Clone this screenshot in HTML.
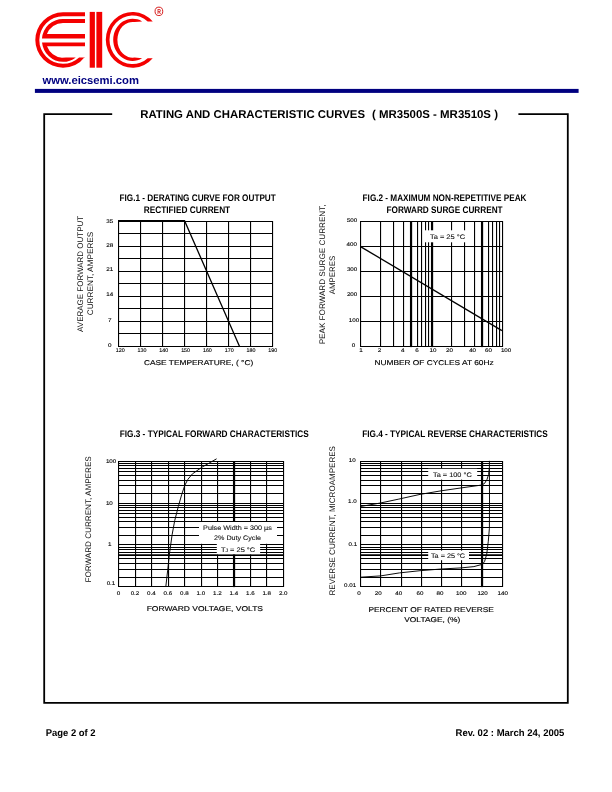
<!DOCTYPE html>
<html lang="en">
<head>
<meta charset="utf-8">
<title>EIC MR3500S - MR3510S Rating and Characteristic Curves</title>
<style>
html,body{margin:0;padding:0;background:#fff;}
body{width:612px;height:792px;overflow:hidden;}
svg{display:block;}
text{font-family:"Liberation Sans",Arial,Helvetica,sans-serif;fill:#000;text-rendering:geometricPrecision;}
.b{font-weight:bold;}
.ft{font-weight:bold;font-size:9.5px;}
.ax{font-size:7px;fill:#000;stroke:#000;stroke-width:0.14px;}
.ay{font-size:8.1px;fill:#111;}
.tk{font-size:5.4px;fill:#000;stroke:#000;stroke-width:0.12px;}
.an{font-size:6.6px;fill:#111;stroke:#111;stroke-width:0.1px;}
.g line{stroke:#000;stroke-width:1.1;}
</style>
</head>
<body>
<svg width="612" height="792" viewBox="0 0 612 792">
<rect x="0" y="0" width="612" height="792" fill="#fff"/>

<g id="logo" fill="#f40000">
<path d="M85.0,12.3 H63.0 A27.7,27.7 0 0 0 63.0,67.7 A27.7,27.7 0 0 0 85.00,56.83 L85.0,57.4 L79.09,57.40 A23.7,23.7 0 0 1 63.0,63.7 A23.7,23.7 0 0 1 63.0,16.3 H85.0 Z"/>
<path d="M85.0,18.9 H63.0 A21.1,21.1 0 0 0 41.95,38.60 H85.0 V34.1 H46.95 A17.1,17.1 0 0 1 63.0,22.9 H85.0 Z"/>
<path d="M85.0,42.4 H42.03 A21.1,21.85 0 0 0 63.0,61.85 A21.1,21.85 0 0 0 75.76,57.40 L66.00,57.55 L62.0,57.70 A17.1,17.70 0 0 1 47.02,46.30 H85.0 Z"/>
<rect x="89.7" y="11.9" width="5.2" height="55.8"/>
<rect x="96.4" y="11.9" width="5.8" height="55.8"/>
<path d="M152.75,21.40 A26.8,27.9 0 1 0 152.75,58.20 L147.69,58.20 A23.1,24.3 0 1 1 147.69,21.40 Z"/>
<path d="M142.10,21.40 A19.4,21.1 0 1 0 142.10,58.20 L134.56,57.55 A15.2,17.9 0 1 1 134.56,22.05 Z"/>
</g>
<ellipse cx="158.9" cy="11.35" rx="3.85" ry="4.2" fill="none" stroke="#d81c1c" stroke-width="1"/>
<text x="159.1" y="14.3" text-anchor="middle" style="font-size:7.2px;fill:#d01818;font-weight:bold" textLength="3.7" lengthAdjust="spacingAndGlyphs">R</text>
<text x="42.4" y="83.7" class="b" style="font-size:11.2px;fill:#000080" textLength="96.6" lengthAdjust="spacingAndGlyphs">www.eicsemi.com</text>
<rect x="34.9" y="88.9" width="543.7" height="4.0" fill="#000080"/>
<path d="M112.2,114.2 H44.2 V702.8 H567.8 V114.2 H518.4" fill="none" stroke="#000" stroke-width="1.8"/>
<text x="140.2" y="118.0" class="b" textLength="224.8" lengthAdjust="spacingAndGlyphs" style="font-size:11.3px">RATING AND CHARACTERISTIC CURVES</text>
<text x="372.0" y="118.0" class="b" textLength="126.0" lengthAdjust="spacingAndGlyphs" style="font-size:11.3px">( MR3500S - MR3510S )</text>
<text x="45.7" y="735.7" class="b" textLength="49.9" lengthAdjust="spacingAndGlyphs" style="font-size:9.8px">Page 2 of 2</text>
<text x="455.6" y="735.7" class="b" textLength="108.7" lengthAdjust="spacingAndGlyphs" style="font-size:9.7px">Rev. 02 : March 24, 2005</text>
<text x="119.5" y="200.9" class="ft" textLength="156.3" lengthAdjust="spacingAndGlyphs">FIG.1 - DERATING CURVE FOR OUTPUT</text>
<text x="143.7" y="212.7" class="ft" textLength="86.5" lengthAdjust="spacingAndGlyphs">RECTIFIED CURRENT</text>
<g class="g">
<line x1="118.55" y1="221.00" x2="118.55" y2="347.10"/>
<line x1="140.55" y1="221.00" x2="140.55" y2="347.10"/>
<line x1="162.55" y1="221.00" x2="162.55" y2="347.10"/>
<line x1="184.55" y1="221.00" x2="184.55" y2="347.10"/>
<line x1="206.55" y1="221.00" x2="206.55" y2="347.10"/>
<line x1="228.55" y1="221.00" x2="228.55" y2="347.10"/>
<line x1="250.55" y1="221.00" x2="250.55" y2="347.10"/>
<line x1="272.55" y1="221.00" x2="272.55" y2="347.10"/>
<line x1="118.55" y1="221.55" x2="272.55" y2="221.55"/>
<line x1="118.55" y1="233.55" x2="272.55" y2="233.55"/>
<line x1="118.55" y1="246.55" x2="272.55" y2="246.55"/>
<line x1="118.55" y1="258.55" x2="272.55" y2="258.55"/>
<line x1="118.55" y1="271.55" x2="272.55" y2="271.55"/>
<line x1="118.55" y1="283.55" x2="272.55" y2="283.55"/>
<line x1="118.55" y1="296.55" x2="272.55" y2="296.55"/>
<line x1="118.55" y1="308.55" x2="272.55" y2="308.55"/>
<line x1="118.55" y1="321.55" x2="272.55" y2="321.55"/>
<line x1="118.55" y1="333.55" x2="272.55" y2="333.55"/>
<line x1="118.55" y1="346.55" x2="272.55" y2="346.55"/>
</g>
<path d="M118.00,220.65 H184.55 L239.55,346.55" fill="none" stroke="#000" stroke-width="1.3"/>
<text x="109.7" y="222.7" class="tk" textLength="6.9" lengthAdjust="spacingAndGlyphs" text-anchor="middle">35</text>
<text x="109.7" y="247.1" class="tk" textLength="6.9" lengthAdjust="spacingAndGlyphs" text-anchor="middle">28</text>
<text x="109.7" y="270.8" class="tk" textLength="6.9" lengthAdjust="spacingAndGlyphs" text-anchor="middle">21</text>
<text x="109.7" y="296.0" class="tk" textLength="6.9" lengthAdjust="spacingAndGlyphs" text-anchor="middle">14</text>
<text x="109.7" y="322.0" class="tk" textLength="3.5" lengthAdjust="spacingAndGlyphs" text-anchor="middle">7</text>
<text x="109.7" y="347.2" class="tk" textLength="3.5" lengthAdjust="spacingAndGlyphs" text-anchor="middle">0</text>
<text x="120.2" y="351.9" class="tk" textLength="8.9" lengthAdjust="spacingAndGlyphs" text-anchor="middle">120</text>
<text x="142.0" y="351.9" class="tk" textLength="8.9" lengthAdjust="spacingAndGlyphs" text-anchor="middle">130</text>
<text x="163.8" y="351.9" class="tk" textLength="8.9" lengthAdjust="spacingAndGlyphs" text-anchor="middle">140</text>
<text x="185.6" y="351.9" class="tk" textLength="8.9" lengthAdjust="spacingAndGlyphs" text-anchor="middle">150</text>
<text x="207.4" y="351.9" class="tk" textLength="8.9" lengthAdjust="spacingAndGlyphs" text-anchor="middle">160</text>
<text x="229.2" y="351.9" class="tk" textLength="8.9" lengthAdjust="spacingAndGlyphs" text-anchor="middle">170</text>
<text x="251.0" y="351.9" class="tk" textLength="8.9" lengthAdjust="spacingAndGlyphs" text-anchor="middle">180</text>
<text x="272.8" y="351.9" class="tk" textLength="8.9" lengthAdjust="spacingAndGlyphs" text-anchor="middle">190</text>
<text x="143.9" y="365.2" class="ax" textLength="109.4" lengthAdjust="spacingAndGlyphs">CASE TEMPERATURE, ( °C)</text>
<text transform="translate(83.2 273.9) rotate(-90)" text-anchor="middle" class="ay" textLength="116.0" lengthAdjust="spacingAndGlyphs">AVERAGE FORWARD OUTPUT</text>
<text transform="translate(93.2 273.5) rotate(-90)" text-anchor="middle" class="ay" textLength="83.6" lengthAdjust="spacingAndGlyphs">CURRENT, AMPERES</text>
<text x="362.6" y="200.9" class="ft" textLength="163.9" lengthAdjust="spacingAndGlyphs">FIG.2 - MAXIMUM NON-REPETITIVE PEAK</text>
<text x="386.5" y="212.7" class="ft" textLength="116.1" lengthAdjust="spacingAndGlyphs">FORWARD SURGE CURRENT</text>
<g class="g">
<line x1="360.55" y1="221.00" x2="360.55" y2="347.10"/>
<line x1="380.55" y1="221.00" x2="380.55" y2="347.10"/>
<line x1="393.55" y1="221.00" x2="393.55" y2="347.10"/>
<line x1="403.55" y1="221.00" x2="403.55" y2="347.10"/>
<line x1="411.05" y1="221.00" x2="411.05" y2="347.10" style="stroke-width:2.2"/>
<line x1="417.55" y1="221.00" x2="417.55" y2="347.10"/>
<line x1="421.55" y1="221.00" x2="421.55" y2="347.10"/>
<line x1="425.55" y1="221.00" x2="425.55" y2="347.10"/>
<line x1="428.55" y1="221.00" x2="428.55" y2="347.10"/>
<line x1="432.05" y1="221.00" x2="432.05" y2="347.10" style="stroke-width:2.2"/>
<line x1="451.55" y1="221.00" x2="451.55" y2="347.10"/>
<line x1="464.55" y1="221.00" x2="464.55" y2="347.10"/>
<line x1="474.55" y1="221.00" x2="474.55" y2="347.10"/>
<line x1="482.05" y1="221.00" x2="482.05" y2="347.10" style="stroke-width:2.2"/>
<line x1="488.55" y1="221.00" x2="488.55" y2="347.10"/>
<line x1="492.55" y1="221.00" x2="492.55" y2="347.10"/>
<line x1="496.55" y1="221.00" x2="496.55" y2="347.10"/>
<line x1="499.55" y1="221.00" x2="499.55" y2="347.10"/>
<line x1="502.55" y1="221.00" x2="502.55" y2="347.10"/>
<line x1="360.55" y1="221.55" x2="502.55" y2="221.55"/>
<line x1="360.55" y1="246.55" x2="502.55" y2="246.55"/>
<line x1="360.55" y1="271.55" x2="502.55" y2="271.55"/>
<line x1="360.55" y1="296.55" x2="502.55" y2="296.55"/>
<line x1="360.55" y1="321.55" x2="502.55" y2="321.55"/>
<line x1="360.55" y1="346.55" x2="502.55" y2="346.55"/>
</g>
<rect x="424.2" y="230.3" width="42.4" height="12.0" fill="#fff"/>
<text x="430.0" y="238.5" class="an" textLength="35.1" lengthAdjust="spacingAndGlyphs">Ta = 25 °C</text>
<path d="M360.5,246.6 L501.9,330.6" fill="none" stroke="#000" stroke-width="1.3"/>
<text x="346.9" y="221.8" class="tk" textLength="10.4" lengthAdjust="spacingAndGlyphs">500</text>
<text x="346.6" y="246.0" class="tk" textLength="10.4" lengthAdjust="spacingAndGlyphs">400</text>
<text x="346.9" y="271.0" class="tk" textLength="10.4" lengthAdjust="spacingAndGlyphs">300</text>
<text x="346.9" y="296.0" class="tk" textLength="10.4" lengthAdjust="spacingAndGlyphs">200</text>
<text x="348.8" y="322.2" class="tk" textLength="10.4" lengthAdjust="spacingAndGlyphs">100</text>
<text x="351.7" y="346.8" class="tk" textLength="3.5" lengthAdjust="spacingAndGlyphs">0</text>
<text x="361.0" y="351.8" class="tk" textLength="3.5" lengthAdjust="spacingAndGlyphs" text-anchor="middle">1</text>
<text x="379.4" y="351.8" class="tk" textLength="3.5" lengthAdjust="spacingAndGlyphs" text-anchor="middle">2</text>
<text x="402.7" y="351.8" class="tk" textLength="3.5" lengthAdjust="spacingAndGlyphs" text-anchor="middle">4</text>
<text x="416.9" y="351.8" class="tk" textLength="3.5" lengthAdjust="spacingAndGlyphs" text-anchor="middle">6</text>
<text x="432.9" y="351.8" class="tk" textLength="6.9" lengthAdjust="spacingAndGlyphs" text-anchor="middle">10</text>
<text x="449.5" y="351.8" class="tk" textLength="6.9" lengthAdjust="spacingAndGlyphs" text-anchor="middle">20</text>
<text x="472.6" y="351.8" class="tk" textLength="6.9" lengthAdjust="spacingAndGlyphs" text-anchor="middle">40</text>
<text x="488.5" y="351.8" class="tk" textLength="6.9" lengthAdjust="spacingAndGlyphs" text-anchor="middle">60</text>
<text x="506.1" y="351.8" class="tk" textLength="10.4" lengthAdjust="spacingAndGlyphs" text-anchor="middle">100</text>
<text x="374.4" y="364.8" class="ax" textLength="119.3" lengthAdjust="spacingAndGlyphs">NUMBER OF CYCLES AT 60Hz</text>
<text transform="translate(324.8 274.4) rotate(-90)" text-anchor="middle" class="ay" textLength="139.8" lengthAdjust="spacingAndGlyphs">PEAK FORWARD SURGE CURRENT,</text>
<text transform="translate(335.1 275.0) rotate(-90)" text-anchor="middle" class="ay" textLength="38.6" lengthAdjust="spacingAndGlyphs">AMPERES</text>
<text x="119.7" y="436.9" class="ft" textLength="189.0" lengthAdjust="spacingAndGlyphs">FIG.3 - TYPICAL FORWARD CHARACTERISTICS</text>
<g class="g">
<line x1="118.55" y1="461.00" x2="118.55" y2="587.10"/>
<line x1="135.55" y1="461.00" x2="135.55" y2="587.10"/>
<line x1="151.55" y1="461.00" x2="151.55" y2="587.10"/>
<line x1="168.55" y1="461.00" x2="168.55" y2="587.10"/>
<line x1="184.55" y1="461.00" x2="184.55" y2="587.10"/>
<line x1="201.55" y1="461.00" x2="201.55" y2="587.10"/>
<line x1="217.55" y1="461.00" x2="217.55" y2="587.10"/>
<line x1="234.05" y1="461.00" x2="234.05" y2="587.10" style="stroke-width:2.2"/>
<line x1="250.55" y1="461.00" x2="250.55" y2="587.10"/>
<line x1="266.55" y1="461.00" x2="266.55" y2="587.10"/>
<line x1="283.55" y1="461.00" x2="283.55" y2="587.10"/>
<line x1="118.55" y1="461.55" x2="283.55" y2="461.55"/>
<line x1="118.55" y1="463.55" x2="283.55" y2="463.55"/>
<line x1="118.55" y1="465.55" x2="283.55" y2="465.55"/>
<line x1="118.55" y1="468.55" x2="283.55" y2="468.55"/>
<line x1="118.55" y1="471.55" x2="283.55" y2="471.55"/>
<line x1="118.55" y1="475.55" x2="283.55" y2="475.55"/>
<line x1="118.55" y1="480.55" x2="283.55" y2="480.55"/>
<line x1="118.55" y1="485.55" x2="283.55" y2="485.55"/>
<line x1="118.55" y1="493.55" x2="283.55" y2="493.55"/>
<line x1="118.55" y1="503.55" x2="283.55" y2="503.55"/>
<line x1="118.55" y1="505.55" x2="283.55" y2="505.55"/>
<line x1="118.55" y1="507.55" x2="283.55" y2="507.55"/>
<line x1="118.55" y1="510.55" x2="283.55" y2="510.55"/>
<line x1="118.55" y1="513.55" x2="283.55" y2="513.55"/>
<line x1="118.55" y1="517.55" x2="283.55" y2="517.55"/>
<line x1="118.55" y1="521.55" x2="283.55" y2="521.55"/>
<line x1="118.55" y1="527.55" x2="283.55" y2="527.55"/>
<line x1="118.55" y1="535.55" x2="283.55" y2="535.55"/>
<line x1="118.55" y1="544.55" x2="283.55" y2="544.55"/>
<line x1="118.55" y1="547.55" x2="283.55" y2="547.55"/>
<line x1="118.55" y1="549.55" x2="283.55" y2="549.55"/>
<line x1="118.55" y1="552.55" x2="283.55" y2="552.55"/>
<line x1="118.55" y1="555.15" x2="283.55" y2="555.15" style="stroke-width:1.6"/>
<line x1="118.55" y1="558.55" x2="283.55" y2="558.55"/>
<line x1="118.55" y1="563.55" x2="283.55" y2="563.55"/>
<line x1="118.55" y1="569.55" x2="283.55" y2="569.55"/>
<line x1="118.55" y1="577.55" x2="283.55" y2="577.55"/>
<line x1="118.55" y1="586.55" x2="283.55" y2="586.55"/>
</g>
<rect x="199.0" y="522.0" width="78.0" height="21.8" fill="#fff"/>
<rect x="216.8" y="543.0" width="43.3" height="11.2" fill="#fff"/>
<text x="203.1" y="529.6" class="an" textLength="68.7" lengthAdjust="spacingAndGlyphs">Pulse Width = 300 µs</text>
<text x="214.1" y="539.8" class="an" textLength="46.9" lengthAdjust="spacingAndGlyphs">2% Duty Cycle</text>
<text x="220.9" y="551.6" class="an" textLength="34.3" lengthAdjust="spacingAndGlyphs">T<tspan style="font-size:4.6px">J</tspan> = 25 °C</text>
<polyline points="216.6,458.8 208.3,463.6 202.1,467.1 192.4,473.9 188.0,479.2 184.8,485.3 181.8,494.2 178.3,506.5 174.7,520.7 172.1,534.8 169.4,554.2 167.7,570.1 165.9,586.0" fill="none" stroke="#000" stroke-width="0.95" stroke-linejoin="round"/>
<text x="105.9" y="462.9" class="tk" textLength="10.4" lengthAdjust="spacingAndGlyphs">100</text>
<text x="105.9" y="504.9" class="tk" textLength="6.9" lengthAdjust="spacingAndGlyphs">10</text>
<text x="107.9" y="545.9" class="tk" textLength="3.5" lengthAdjust="spacingAndGlyphs">1</text>
<text x="106.7" y="585.1" class="tk" textLength="8.6" lengthAdjust="spacingAndGlyphs">0.1</text>
<text x="118.5" y="595.0" class="tk" textLength="3.5" lengthAdjust="spacingAndGlyphs" text-anchor="middle">0</text>
<text x="135.0" y="595.0" class="tk" textLength="8.6" lengthAdjust="spacingAndGlyphs" text-anchor="middle">0.2</text>
<text x="151.4" y="595.0" class="tk" textLength="8.6" lengthAdjust="spacingAndGlyphs" text-anchor="middle">0.4</text>
<text x="167.9" y="595.0" class="tk" textLength="8.6" lengthAdjust="spacingAndGlyphs" text-anchor="middle">0.6</text>
<text x="184.4" y="595.0" class="tk" textLength="8.6" lengthAdjust="spacingAndGlyphs" text-anchor="middle">0.8</text>
<text x="200.8" y="595.0" class="tk" textLength="8.6" lengthAdjust="spacingAndGlyphs" text-anchor="middle">1.0</text>
<text x="217.3" y="595.0" class="tk" textLength="8.6" lengthAdjust="spacingAndGlyphs" text-anchor="middle">1.2</text>
<text x="233.8" y="595.0" class="tk" textLength="8.6" lengthAdjust="spacingAndGlyphs" text-anchor="middle">1.4</text>
<text x="250.3" y="595.0" class="tk" textLength="8.6" lengthAdjust="spacingAndGlyphs" text-anchor="middle">1.6</text>
<text x="266.7" y="595.0" class="tk" textLength="8.6" lengthAdjust="spacingAndGlyphs" text-anchor="middle">1.8</text>
<text x="283.2" y="595.0" class="tk" textLength="8.6" lengthAdjust="spacingAndGlyphs" text-anchor="middle">2.0</text>
<text x="146.7" y="610.8" class="ax" textLength="116.3" lengthAdjust="spacingAndGlyphs">FORWARD VOLTAGE, VOLTS</text>
<text transform="translate(91.2 519.4) rotate(-90)" text-anchor="middle" class="ay" textLength="126.2" lengthAdjust="spacingAndGlyphs">FORWARD CURRENT, AMPERES</text>
<text x="362.2" y="436.9" class="ft" textLength="185.6" lengthAdjust="spacingAndGlyphs">FIG.4 - TYPICAL REVERSE CHARACTERISTICS</text>
<g class="g">
<line x1="360.55" y1="461.00" x2="360.55" y2="587.10"/>
<line x1="380.55" y1="461.00" x2="380.55" y2="587.10"/>
<line x1="401.55" y1="461.00" x2="401.55" y2="587.10"/>
<line x1="421.55" y1="461.00" x2="421.55" y2="587.10"/>
<line x1="441.55" y1="461.00" x2="441.55" y2="587.10"/>
<line x1="461.55" y1="461.00" x2="461.55" y2="587.10"/>
<line x1="482.05" y1="461.00" x2="482.05" y2="587.10" style="stroke-width:2.2"/>
<line x1="502.55" y1="461.00" x2="502.55" y2="587.10"/>
<line x1="360.55" y1="461.55" x2="502.55" y2="461.55"/>
<line x1="360.55" y1="463.55" x2="502.55" y2="463.55"/>
<line x1="360.55" y1="465.55" x2="502.55" y2="465.55"/>
<line x1="360.55" y1="468.55" x2="502.55" y2="468.55"/>
<line x1="360.55" y1="471.55" x2="502.55" y2="471.55"/>
<line x1="360.55" y1="475.55" x2="502.55" y2="475.55"/>
<line x1="360.55" y1="480.55" x2="502.55" y2="480.55"/>
<line x1="360.55" y1="485.55" x2="502.55" y2="485.55"/>
<line x1="360.55" y1="493.55" x2="502.55" y2="493.55"/>
<line x1="360.55" y1="503.55" x2="502.55" y2="503.55"/>
<line x1="360.55" y1="505.55" x2="502.55" y2="505.55"/>
<line x1="360.55" y1="507.55" x2="502.55" y2="507.55"/>
<line x1="360.55" y1="510.55" x2="502.55" y2="510.55"/>
<line x1="360.55" y1="513.55" x2="502.55" y2="513.55"/>
<line x1="360.55" y1="517.55" x2="502.55" y2="517.55"/>
<line x1="360.55" y1="521.55" x2="502.55" y2="521.55"/>
<line x1="360.55" y1="527.55" x2="502.55" y2="527.55"/>
<line x1="360.55" y1="535.55" x2="502.55" y2="535.55"/>
<line x1="360.55" y1="544.55" x2="502.55" y2="544.55"/>
<line x1="360.55" y1="547.55" x2="502.55" y2="547.55"/>
<line x1="360.55" y1="549.55" x2="502.55" y2="549.55"/>
<line x1="360.55" y1="552.55" x2="502.55" y2="552.55"/>
<line x1="360.55" y1="555.15" x2="502.55" y2="555.15" style="stroke-width:1.6"/>
<line x1="360.55" y1="558.55" x2="502.55" y2="558.55"/>
<line x1="360.55" y1="563.55" x2="502.55" y2="563.55"/>
<line x1="360.55" y1="569.55" x2="502.55" y2="569.55"/>
<line x1="360.55" y1="577.55" x2="502.55" y2="577.55"/>
<line x1="360.55" y1="586.55" x2="502.55" y2="586.55"/>
</g>
<rect x="428.2" y="468.8" width="49.0" height="10.8" fill="#fff"/>
<rect x="428.2" y="550.6" width="40.8" height="9.6" fill="#fff"/>
<text x="433.0" y="476.6" class="an" textLength="38.7" lengthAdjust="spacingAndGlyphs">Ta = 100 °C</text>
<text x="431.0" y="557.6" class="an" textLength="34.1" lengthAdjust="spacingAndGlyphs">Ta = 25 °C</text>
<polyline points="360.4,506.5 380.4,503.0 398.8,499.1 420.0,494.4 441.2,490.8 461.3,487.9 481.3,485.1 484.5,483.5 487.0,479.4 488.6,474.5 489.4,468.0 489.4,460.8" fill="none" stroke="#000" stroke-width="0.95" stroke-linejoin="round"/>
<polyline points="360.4,577.2 380.6,575.9 399.5,572.9 420.0,570.7 441.2,569.0 461.3,567.9 473.9,566.6 482.1,564.4 484.5,561.7 486.7,554.3 488.3,541.2 489.4,528.2 489.5,500.0 489.4,468.0" fill="none" stroke="#000" stroke-width="0.95" stroke-linejoin="round"/>
<text x="348.7" y="462.1" class="tk" textLength="6.9" lengthAdjust="spacingAndGlyphs">10</text>
<text x="348.0" y="503.1" class="tk" textLength="8.6" lengthAdjust="spacingAndGlyphs">1.0</text>
<text x="348.5" y="546.0" class="tk" textLength="8.6" lengthAdjust="spacingAndGlyphs">0.1</text>
<text x="344.0" y="586.9" class="tk" textLength="12.1" lengthAdjust="spacingAndGlyphs">0.01</text>
<text x="358.9" y="594.8" class="tk" textLength="3.5" lengthAdjust="spacingAndGlyphs" text-anchor="middle">0</text>
<text x="378.2" y="594.8" class="tk" textLength="6.9" lengthAdjust="spacingAndGlyphs" text-anchor="middle">20</text>
<text x="398.8" y="594.8" class="tk" textLength="6.9" lengthAdjust="spacingAndGlyphs" text-anchor="middle">40</text>
<text x="420.0" y="594.8" class="tk" textLength="6.9" lengthAdjust="spacingAndGlyphs" text-anchor="middle">60</text>
<text x="440.0" y="594.8" class="tk" textLength="6.9" lengthAdjust="spacingAndGlyphs" text-anchor="middle">80</text>
<text x="461.2" y="594.8" class="tk" textLength="10.4" lengthAdjust="spacingAndGlyphs" text-anchor="middle">100</text>
<text x="482.6" y="594.8" class="tk" textLength="10.4" lengthAdjust="spacingAndGlyphs" text-anchor="middle">120</text>
<text x="502.8" y="594.8" class="tk" textLength="10.4" lengthAdjust="spacingAndGlyphs" text-anchor="middle">140</text>
<text x="368.4" y="611.5" class="ax" textLength="125.5" lengthAdjust="spacingAndGlyphs">PERCENT OF RATED REVERSE</text>
<text x="404.3" y="621.8" class="ax" textLength="55.9" lengthAdjust="spacingAndGlyphs">VOLTAGE, (%)</text>
<text transform="translate(335.0 520.8) rotate(-90)" text-anchor="middle" class="ay" textLength="149.4" lengthAdjust="spacingAndGlyphs">REVERSE CURRENT, MICROAMPERES</text>
</svg>
</body>
</html>
